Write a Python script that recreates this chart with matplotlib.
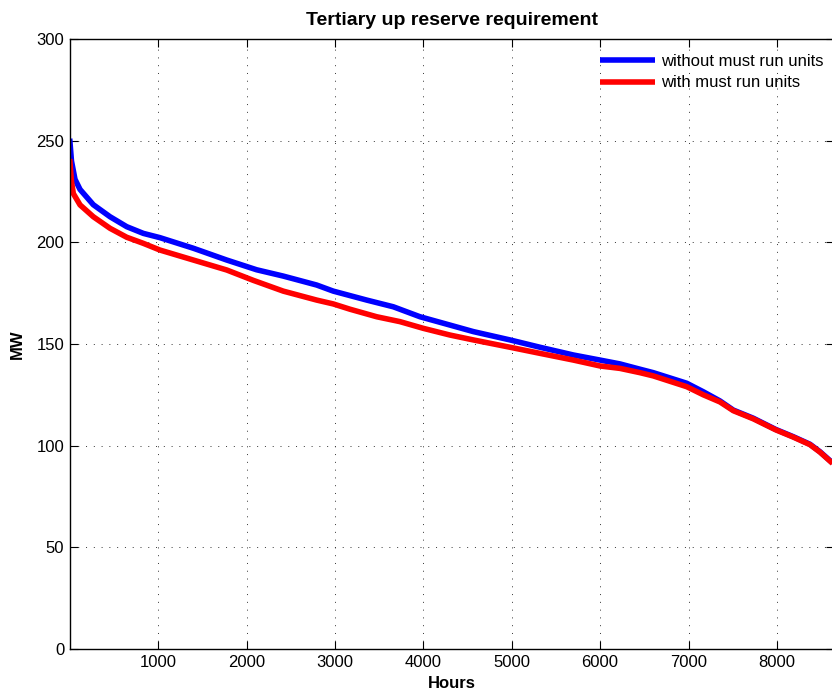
import matplotlib
matplotlib.use("Agg")
import matplotlib.pyplot as plt

# Load duration curves (hours sorted by descending MW)
hours_without = [0, 20, 60, 117, 267, 456, 645, 833, 1021, 1398, 1776, 2115, 2416,
                 2794, 2982, 3360, 3661, 3963, 4302, 4566, 4981, 5320, 5697, 5999,
                 6225, 6451, 6602, 6980, 7168, 7356, 7507, 7733, 7986, 8186, 8374,
                 8488, 8630]
mw_without = [251, 240, 231, 226, 218.5, 212.6, 207.7, 204.4, 202.3, 197.1, 191.3,
              186.5, 183.4, 179, 176, 171.6, 168.3, 163.4, 159.3, 156.1, 152, 148.4,
              144.6, 142.1, 140.2, 137.6, 135.9, 130.7, 126.5, 122, 117.5, 113.5, 108,
              104.4, 100.7, 97, 91.5]

hours_with = [0, 20, 41, 117, 267, 456, 645, 833, 1021, 1398, 1776, 2077, 2416, 2794,
              2982, 3171, 3473, 3736, 4000, 4302, 4566, 4981, 5320, 5697, 5999, 6225,
              6451, 6602, 6980, 7168, 7356, 7507, 7733, 7986, 8186, 8374, 8488, 8630]
mw_with = [241, 230, 224, 218.4, 212.6, 206.9, 202.5, 199.5, 196.2, 191.3, 186.4,
           181.3, 176.0, 171.6, 169.7, 167.1, 163.4, 161, 157.7, 154.4, 152, 148.4,
           145.4, 142.1, 139.2, 138, 135.9, 134.3, 129, 125, 121.5, 117.2, 113.2,
           107.8, 104.2, 100.5, 96.8, 91.3]

x_ticks = [1000, 2000, 3000, 4000, 5000, 6000, 7000, 8000]
y_ticks = [0, 50, 100, 150, 200, 250, 300]

plt.rcParams["font.family"] = ["Liberation Sans", "DejaVu Sans"]

W, H = 832, 693
fig = plt.figure(figsize=(W / 100, H / 100), dpi=100)
ax = fig.add_axes([69.7 / W, 44 / H, (834 - 69.7) / W, 610 / H])

ax.plot(hours_without, mw_without, color="#0000ff", linewidth=4,
        label="without must run units", solid_capstyle="butt")
ax.plot(hours_with, mw_with, color="#ff0000", linewidth=4,
        label="with must run units", solid_capstyle="butt")

ax.set_xlim(0, (834 - 69.7) / 0.0884)
ax.set_ylim(0, 300)
ax.set_xticks(x_ticks)
ax.set_yticks(y_ticks)
ax.tick_params(direction="in", length=5.5, width=0.8, labelsize=12, pad=4,
               top=True, right=True)
ax.grid(True, color="#333333", linestyle=(0, (1, 7)), linewidth=0.7)
for side in ax.spines.values():
    side.set_linewidth(1.0)

ax.set_title("Tertiary up reserve requirement", fontsize=14, fontweight="bold", pad=10)
ax.set_xlabel("Hours", fontsize=12, fontweight="bold", labelpad=5)
ax.set_ylabel("MW", fontsize=12, fontweight="bold", labelpad=8)

fig.legend(loc="upper left", bbox_to_anchor=(600 / W, 1 - 54 / H), frameon=False,
           fontsize=12, handlelength=3.3, handletextpad=0.36, labelspacing=0.38,
           borderpad=0, borderaxespad=0)

fig.savefig("out.png", dpi=100)
